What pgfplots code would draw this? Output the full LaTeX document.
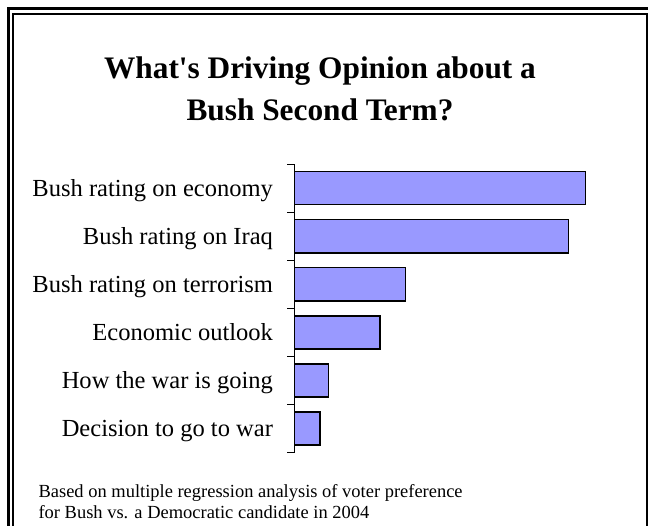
\documentclass[border=0pt]{standalone}
\usepackage{pgfplots}
\pgfplotsset{compat=1.18}
\usepackage{fontspec}
\setmainfont{Liberation Serif}
\definecolor{barfill}{HTML}{9999FF}
\begin{document}
\begin{tikzpicture}
\useasboundingbox (0,0) rectangle (486pt,-393.75pt);
\clip (0,0) rectangle (486pt,-393.75pt);
\begin{scope}[x=0.75pt,y=-0.75pt]
\draw[line width=2.625pt] (8.7,8.7) rectangle (651.5,540);
\draw[line width=1.5pt] (13.3,14.3) rectangle (646.5,535);
\node[anchor=base, font=\fontsize{23.5}{28}\selectfont\bfseries, inner sep=0pt] at (320,78) {What\textquotesingle s Driving Opinion about a};
\node[anchor=base, font=\fontsize{23.5}{28}\selectfont\bfseries, inner sep=0pt] at (320,120) {Bush Second Term?};
\node[anchor=base west, font=\fontsize{13.85}{15}\selectfont, inner sep=0pt] at (38.3,497.5) {Based on multiple regression analysis of voter preference};
\node[anchor=base west, font=\fontsize{13.85}{15}\selectfont, inner sep=0pt] at (38.3,518) {for Bush vs. a Democratic candidate in 2004};
\end{scope}
\begin{axis}[
 at={(220.7pt,-339.5pt)}, anchor=south west,
 scale only axis, width=225pt, height=216.5pt,
 xmin=0, xmax=300, ymin=-0.5, ymax=5.5,
 axis x line=none, axis y line*=left,
 axis line style={line width=0.75pt, black},
 ytick={0,...,5},
 yticklabels={Decision to go to war, How the war is going, Economic outlook, Bush rating on terrorism, Bush rating on Iraq, Bush rating on economy},
 major tick length=0pt,
 minor ytick={-0.5,0.5,...,5.5},
 minor tick length=5.25pt,
 tick align=outside, ytick pos=left,
 tick style={black, line width=0.75pt},
 yticklabel style={font=\fontsize{18.4}{20}\selectfont, inner sep=0pt, anchor=base east, xshift=-15.75pt, yshift=-6pt},
 xbar, bar width=0.69,
 clip=false,
]
\addplot[fill=barfill, draw=black, line width=1.1pt] coordinates {(25.7,0) (34.4,1) (85.7,2) (111.4,3) (274,4) (291.4,5)};
\end{axis}
\end{tikzpicture}
\end{document}
